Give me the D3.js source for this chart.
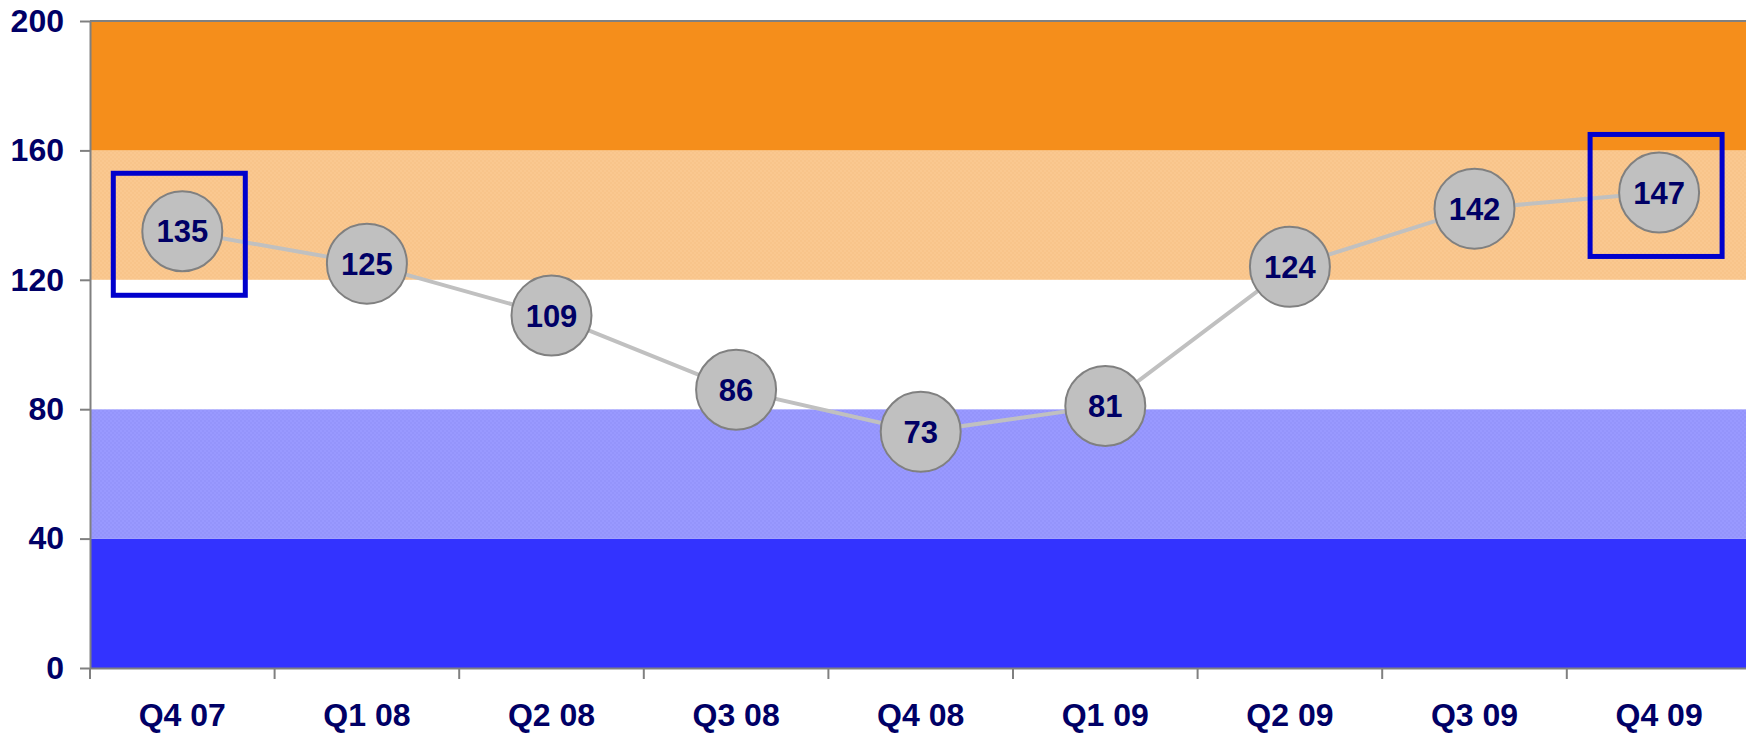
<!DOCTYPE html>
<html>
<head>
<meta charset="utf-8">
<script src="https://cdn.jsdelivr.net/npm/d3@7"></script>
<style>
  html, body { margin: 0; padding: 0; background: #fff; overflow: hidden; }
  svg { display: block; }
</style>
</head>
<body>
<div id="chart"></div>
<script>
const categories = ['Q4 07', 'Q1 08', 'Q2 08', 'Q3 08', 'Q4 08', 'Q1 09', 'Q2 09', 'Q3 09', 'Q4 09'];
const values = [135, 125, 109, 86, 73, 81, 124, 142, 147];
const yTicks = [0, 40, 80, 120, 160, 200];
const bandLows = [0, 40, 80, 120, 160];
const bandHighs = [40, 80, 120, 160, 200];
const highlighted = ['Q4 07', 'Q4 09'];

const width = 1746, height = 733;
const plotLeft = 90, plotTop = 21, plotBottom = 668;
const step = 184.6;

const svg = d3.select('#chart').append('svg')
  .attr('width', width)
  .attr('height', height);

const defs = svg.append('defs');
function pattern(id, base, dot) {
  const p = defs.append('pattern')
    .attr('id', id)
    .attr('width', 4).attr('height', 4)
    .attr('patternUnits', 'userSpaceOnUse');
  p.append('rect').attr('width', 4).attr('height', 4).attr('fill', base);
  p.append('rect').attr('width', 2).attr('height', 2).attr('fill', dot);
  p.append('rect').attr('x', 2).attr('y', 2).attr('width', 2).attr('height', 2).attr('fill', dot);
}
pattern('lightBlue', '#9999ff', '#9494fb');
pattern('lightOrange', '#fac890', '#f8c48a');
const bandFills = ['#3333ff', 'url(#lightBlue)', '#ffffff', 'url(#lightOrange)', '#f58e1b'];

const x = d3.scaleBand()
  .domain(categories)
  .range([plotLeft, plotLeft + step * categories.length]);

const y = d3.scaleLinear()
  .domain([0, 200])
  .range([plotBottom, plotTop]);

const font = '"Liberation Sans", Arial, sans-serif';
const navy = '#000066';
const gray = '#808080';

// Background bands
svg.append('g')
  .selectAll('rect')
  .data(bandLows)
  .join('rect')
  .attr('x', plotLeft)
  .attr('width', width - plotLeft)
  .attr('y', (d, i) => y(bandHighs[i]))
  .attr('height', (d, i) => y(d) - y(bandHighs[i]))
  .attr('fill', (d, i) => bandFills[i]);

// Top border
svg.append('line')
  .attr('x1', plotLeft).attr('x2', width)
  .attr('y1', y(200)).attr('y2', y(200))
  .attr('stroke', gray).attr('stroke-width', 2);

// Y axis
const yAxis = svg.append('g')
  .attr('transform', `translate(${plotLeft},0)`)
  .call(d3.axisLeft(y).tickValues(yTicks).tickSize(10).tickPadding(16).tickSizeOuter(0));
yAxis.select('.domain').attr('stroke', gray).attr('stroke-width', 2);
yAxis.selectAll('.tick line').attr('stroke', gray).attr('stroke-width', 2);
yAxis.selectAll('.tick text')
  .attr('fill', navy)
  .style('font-family', font)
  .style('font-weight', 'bold')
  .style('font-size', '32px');

// X axis
const xAxis = svg.append('g')
  .attr('transform', `translate(0,${plotBottom})`)
  .call(d3.axisBottom(x).tickSize(0).tickPadding(35).tickSizeOuter(0));
xAxis.select('.domain').attr('stroke', gray).attr('stroke-width', 2);
xAxis.selectAll('.tick text')
  .attr('fill', navy)
  .style('font-family', font)
  .style('font-weight', 'bold')
  .style('font-size', '32px');

svg.append('g')
  .selectAll('line')
  .data(categories)
  .join('line')
  .attr('x1', d => x(d)).attr('x2', d => x(d))
  .attr('y1', plotBottom).attr('y2', plotBottom + 11)
  .attr('stroke', gray).attr('stroke-width', 2);

const cx = d => x(d) + x.bandwidth() / 2;

// Line
svg.append('path')
  .datum(values)
  .attr('fill', 'none')
  .attr('stroke', '#c0c0c0')
  .attr('stroke-width', 4)
  .attr('d', d3.line().x((d, i) => cx(categories[i])).y(d => y(d)));

// Highlight boxes
svg.append('g')
  .selectAll('rect')
  .data(highlighted)
  .join('rect')
  .attr('x', d => cx(d) - 3 - 66)
  .attr('y', d => y(values[categories.indexOf(d)]) + 3 - 61)
  .attr('width', 132)
  .attr('height', 122)
  .attr('fill', 'none')
  .attr('stroke', '#0000cc')
  .attr('stroke-width', 5);

// Markers
const pts = svg.append('g')
  .selectAll('g')
  .data(values)
  .join('g')
  .attr('transform', (d, i) => `translate(${cx(categories[i])},${y(d)})`);

pts.append('circle')
  .attr('r', 40)
  .attr('fill', '#c0c0c0')
  .attr('stroke', gray)
  .attr('stroke-width', 2);

pts.append('text')
  .attr('text-anchor', 'middle')
  .attr('dy', '0.36em')
  .attr('fill', navy)
  .style('font-family', font)
  .style('font-weight', 'bold')
  .style('font-size', '31px')
  .text(d => d);
</script>
</body>
</html>
